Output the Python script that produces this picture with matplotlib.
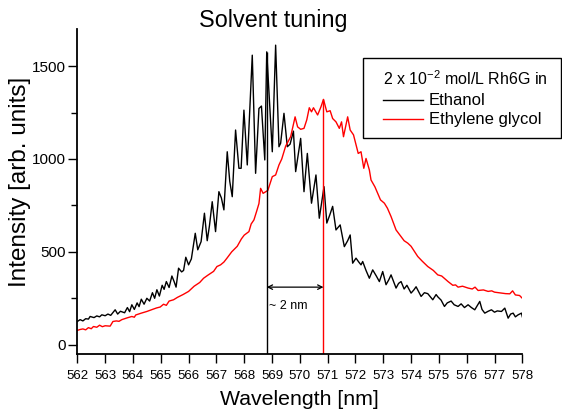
"""Solvent tuning: Rh6G emission in ethanol vs ethylene glycol.

Saves the figure to out.png.
"""
from __future__ import annotations

import matplotlib

matplotlib.use("Agg")
import matplotlib.pyplot as plt
from matplotlib.lines import Line2D
from matplotlib.patches import Rectangle

# Ethanol spectrum (black)
ethanol_wl = [
    562.00, 562.10, 562.20, 562.30, 562.40, 562.46, 562.60, 562.70, 562.80, 562.88,
    563.00, 563.10, 563.20, 563.36, 563.45, 563.55, 563.70, 563.80, 563.88, 563.96,
    564.05, 564.15, 564.22, 564.30, 564.40, 564.50, 564.60, 564.70, 564.78, 564.86,
    564.95, 565.05, 565.12, 565.20, 565.30, 565.40, 565.48, 565.55, 565.64, 565.75,
    565.82, 565.90, 566.00, 566.10, 566.24, 566.33, 566.45, 566.57, 566.67, 566.75,
    566.85, 566.97, 567.09, 567.18, 567.27, 567.39, 567.48, 567.57, 567.69, 567.81,
    567.89, 567.99, 568.11, 568.29, 568.41, 568.53, 568.62, 568.74, 568.81, 569.01,
    569.13, 569.25, 569.31, 569.43, 569.55, 569.65, 569.77, 569.85, 570.03, 570.15,
    570.27, 570.42, 570.58, 570.70, 570.87, 570.97, 571.08, 571.18, 571.30, 571.45,
    571.60, 571.72, 571.81, 571.90, 572.02, 572.12, 572.20, 572.26, 572.38, 572.50,
    572.62, 572.75, 572.86, 572.98, 573.10, 573.20, 573.28, 573.46, 573.55, 573.64,
    573.75, 573.85, 574.00, 574.10, 574.18, 574.36, 574.48, 574.60, 574.78, 574.90,
    574.96, 575.08, 575.20, 575.30, 575.44, 575.55, 575.69, 575.80, 575.92, 576.05,
    576.17, 576.29, 576.47, 576.55, 576.65, 576.77, 576.89, 577.00, 577.10, 577.25,
    577.37, 577.49, 577.58, 577.67, 577.75, 577.85, 577.97, 578.00,
]
ethanol_int = [
    125, 135, 128, 140, 138, 152, 146, 155, 150, 161,
    156, 165, 158, 188, 165, 180, 172, 200, 178, 215,
    190, 225, 205, 245, 218, 250, 235, 280, 250, 296,
    262, 320, 298, 340, 308, 370, 340, 310, 412, 392,
    400, 471, 430, 462, 600, 511, 555, 708, 560, 640,
    770, 609, 824, 790, 726, 1039, 880, 797, 1156, 950,
    950, 1263, 968, 1559, 923, 1272, 1285, 995, 1577, 1039,
    1613, 1066, 1085, 1246, 1066, 1080, 1150, 932, 1111, 824,
    1030, 762, 914, 681, 851, 655, 700, 745, 618, 645,
    528, 560, 591, 439, 466, 445, 430, 448, 400, 358,
    403, 370, 340, 394, 323, 350, 376, 305, 330, 340,
    300, 320, 278, 295, 312, 260, 280, 275, 242, 270,
    258, 240, 206, 225, 235, 215, 206, 220, 200, 215,
    200, 188, 233, 190, 170, 180, 188, 175, 182, 179,
    197, 143, 165, 170, 150, 161, 170, 150,
]

# Ethylene glycol spectrum (red)
glycol_wl = [
    562.00, 562.10, 562.20, 562.30, 562.40, 562.50, 562.58, 562.70, 562.80, 562.90,
    563.00, 563.18, 563.28, 563.40, 563.50, 563.60, 563.80, 563.96, 564.05, 564.10,
    564.30, 564.50, 564.70, 564.85, 564.98, 565.10, 565.20, 565.30, 565.46, 565.60,
    565.80, 566.00, 566.20, 566.40, 566.54, 566.70, 566.90, 567.02, 567.15, 567.27,
    567.38, 567.55, 567.75, 567.90, 568.00, 568.17, 568.25, 568.35, 568.45, 568.53,
    568.59, 568.68, 568.85, 569.01, 569.13, 569.25, 569.35, 569.49, 569.67, 569.83,
    569.92, 570.03, 570.15, 570.25, 570.34, 570.42, 570.49, 570.64, 570.76, 570.85,
    570.97, 571.09, 571.18, 571.30, 571.42, 571.50, 571.57, 571.72, 571.81, 571.93,
    572.10, 572.20, 572.30, 572.38, 572.50, 572.56, 572.70, 572.80, 572.90, 573.04,
    573.15, 573.28, 573.46, 573.60, 573.75, 573.88, 574.00, 574.24, 574.40, 574.60,
    574.80, 574.96, 575.10, 575.33, 575.50, 575.60, 575.69, 575.85, 576.05, 576.20,
    576.30, 576.41, 576.60, 576.77, 576.90, 577.00, 577.25, 577.40, 577.55, 577.65,
    577.75, 577.90, 578.00,
]
glycol_int = [
    77, 82, 85, 80, 92, 86, 98, 94, 105, 97,
    102, 100, 125, 128, 126, 135, 145, 152, 148, 160,
    170, 179, 190, 198, 203, 218, 212, 235, 242, 255,
    270, 287, 315, 335, 358, 375, 395, 421, 430, 445,
    466, 500, 530, 570, 590, 609, 650, 672, 720, 760,
    842, 815, 831, 905, 914, 968, 1000, 1069, 1120, 1227,
    1173, 1160, 1165, 1211, 1276, 1254, 1276, 1237, 1281, 1321,
    1254, 1260, 1218, 1200, 1165, 1200, 1120, 1227, 1156, 1130,
    1030, 1039, 950, 1003, 941, 887, 850, 815, 780, 762,
    735, 690, 618, 590, 560, 547, 530, 475, 450, 421,
    400, 376, 370, 340, 320, 322, 310, 315, 305, 300,
    310, 292, 295, 287, 290, 283, 278, 275, 274, 290,
    268, 265, 250,
]

# peak markers and shift annotation
peak_wl = [568.81, 570.85]
peak_top = [1577, 1321]
peak_colors = ["black", "red"]
arrow_y = 310
shift_label = "~ 2 nm"
shift_label_y = 206

x_ticks = list(range(562, 579))
y_ticks = [0, 500, 1000, 1500]

legend_title = "2 x 10$^{-2}$ mol/L Rh6G in"
legend_labels = ["Ethanol", "Ethylene glycol"]
legend_colors = ["black", "red"]


def draw_legend(fig) -> None:
    # box drawn by hand so the padding matches the original (wider left/right)
    W, H = 562, 412
    fig.add_artist(Rectangle((363 / W, 1 - 137.7 / H), 198.3 / W, 80 / H,
                             transform=fig.transFigure, fill=False,
                             edgecolor="black", lw=1.0))
    fig.text(382.7 / W, 1 - 85 / H, legend_title, fontsize=11.5, va="baseline")
    for i, (lab, col) in enumerate(zip(legend_labels, legend_colors)):
        y_line = 100 + 19.3 * i
        fig.add_artist(Line2D([382.7 / W, 423 / W], [1 - y_line / H] * 2,
                              transform=fig.transFigure, color=col, lw=1.0))
        fig.text(429 / W, 1 - (y_line + 5) / H, lab, fontsize=12, va="baseline")


def main() -> None:
    plt.rcParams["font.family"] = ["Liberation Sans", "DejaVu Sans"]
    plt.rcParams["mathtext.fontset"] = "custom"
    plt.rcParams["mathtext.rm"] = "Liberation Sans"
    plt.rcParams["mathtext.default"] = "regular"

    fig = plt.figure(figsize=(5.62, 4.12), dpi=100)
    ax = fig.add_axes([0.1376, 0.1408, 0.7918, 0.7888])

    ax.plot(ethanol_wl, ethanol_int, color="black", lw=1.0)
    ax.plot(glycol_wl, glycol_int, color="red", lw=1.0)

    ymin = -50
    for wl, top, col in zip(peak_wl, peak_top, peak_colors):
        ax.vlines(wl, ymin, top, color=col, lw=1.0)
    ax.annotate("", xy=(peak_wl[1], arrow_y), xytext=(peak_wl[0], arrow_y),
                arrowprops=dict(arrowstyle="<->", color="black", lw=0.9,
                                shrinkA=0, shrinkB=0, mutation_scale=8))
    ax.text(peak_wl[0] + 0.07, shift_label_y, shift_label, fontsize=9,
            va="center", ha="left")

    ax.set_xlim(562, 578)
    ax.set_ylim(ymin, 1700)
    ax.set_xticks(x_ticks)
    ax.set_yticks(y_ticks)
    ax.set_yticks([250, 750, 1250], minor=True)
    ax.tick_params(axis="x", labelsize=9.5, length=6.5, width=1.0, pad=5)
    ax.tick_params(axis="y", labelsize=11, length=6.5, width=1.0, pad=1.5)
    ax.tick_params(axis="y", which="minor", length=4, width=1.0)
    for side in ("top", "right"):
        ax.spines[side].set_visible(False)
    for side in ("left", "bottom"):
        ax.spines[side].set_linewidth(1.3)

    ax.set_xlabel("Wavelength [nm]", fontsize=15.3)
    ax.xaxis.set_label_coords(0.5, -0.112)
    ax.set_ylabel("Intensity [arb. units]", fontsize=17.5)
    ax.yaxis.set_label_coords(-0.103, 0.53)

    fig.text(0.4858, 0.935, "Solvent tuning", fontsize=16.8,
             ha="center", va="baseline")

    draw_legend(fig)

    fig.savefig("out.png", dpi=100)


if __name__ == "__main__":
    main()
